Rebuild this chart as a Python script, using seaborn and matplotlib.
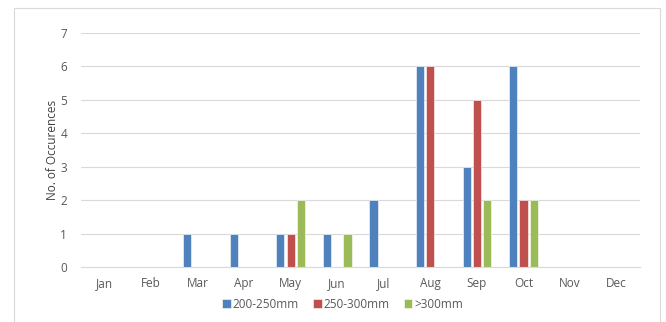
import matplotlib
matplotlib.use("Agg")
import matplotlib.pyplot as plt
import seaborn as sns
import pandas as pd
from matplotlib.patches import Rectangle

months = ["Jan", "Feb", "Mar", "Apr", "May", "Jun", "Jul", "Aug", "Sep", "Oct", "Nov", "Dec"]
s_200_250 = [0, 0, 1, 1, 1, 1, 2, 6, 3, 6, 0, 0]
s_250_300 = [0, 0, 0, 0, 1, 0, 0, 6, 5, 2, 0, 0]
s_300 = [0, 0, 0, 0, 2, 1, 0, 0, 2, 2, 0, 0]
series_names = ["200-250mm", "250-300mm", ">300mm"]
colors = ["#4F81BD", "#C0504D", "#9BBB59"]

rows = []
for name, vals in zip(series_names, [s_200_250, s_250_300, s_300]):
    for m, v in zip(months, vals):
        rows.append({"Month": m, "Series": name, "Count": v})
df = pd.DataFrame(rows)

sns.set_theme(style="white")
plt.rcParams["font.family"] = ["Open Sans", "DejaVu Sans"]

fig = plt.figure(figsize=(6.66, 3.22), dpi=100)
ax = fig.add_axes([81/666, 1-267/322, (640-81)/666, (267-33)/322])

sns.barplot(data=df, x="Month", y="Count", hue="Series", order=months,
            hue_order=series_names, palette=colors, width=0.66, gap=0.2,
            saturation=1, edgecolor="white", linewidth=0.4, ax=ax,
            legend=True, errorbar=None)

ax.set_ylim(0, 7)
ax.set_xlim(-0.5, 11.5)
ax.set_yticks(range(0, 8))
ax.yaxis.grid(True, color="#D9D9D9", linewidth=0.8)
ax.set_axisbelow(True)
for s in ["top", "right", "left"]:
    ax.spines[s].set_visible(False)
ax.spines["bottom"].set_color("#D9D9D9")
ax.spines["bottom"].set_linewidth(0.8)
ax.tick_params(axis="both", length=0, colors="#595959", labelsize=8.5)
ax.tick_params(axis="x", pad=7)
ax.tick_params(axis="y", pad=10)
ax.set_xlabel("")
ax.set_ylabel("No. of Occurences", fontsize=8.5, color="#404040", labelpad=1)

leg = ax.legend(loc="center", bbox_to_anchor=(343/666, 1-304/322),
                bbox_transform=fig.transFigure, ncol=3, frameon=False,
                fontsize=8.5, handlelength=0.7, handleheight=0.7,
                handletextpad=0.2, columnspacing=1.2)
for t in leg.get_texts():
    t.set_color("#595959")

fig.patches.append(Rectangle((14/666, -0.05), (660-14)/666, 1-8/322+0.05,
                             transform=fig.transFigure, fill=False,
                             edgecolor="#D9D9D9", linewidth=0.8))

fig.savefig("out.png", dpi=100)
